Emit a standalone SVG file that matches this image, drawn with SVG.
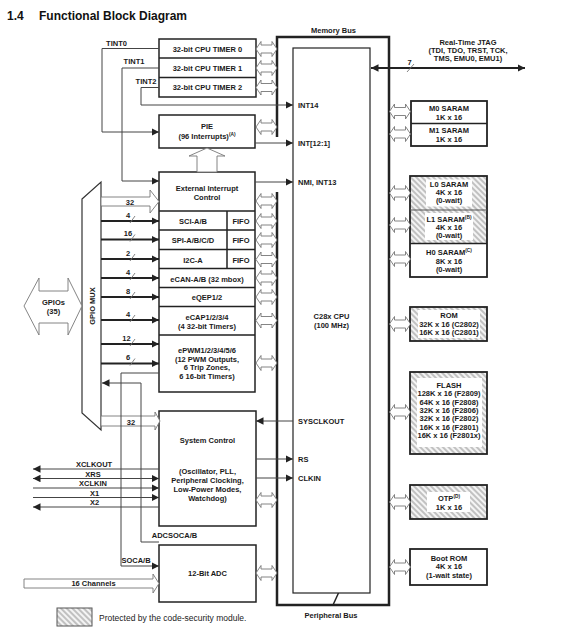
<svg xmlns="http://www.w3.org/2000/svg" width="561" height="630" viewBox="0 0 561 630">
<defs>
<style>
.t{font-family:"Liberation Sans",Arial,sans-serif;font-weight:bold;font-size:7.5px;fill:#1a1a1a;text-anchor:middle}
.tl{font-family:"Liberation Sans",Arial,sans-serif;font-weight:bold;font-size:7.5px;fill:#1a1a1a}
.sup{font-size:4.8px}
.bx{fill:#fff;stroke:#222;stroke-width:1.5}
.mem{stroke:#222;stroke-width:1.8}
.ln{stroke:#444;stroke-width:1;fill:none}
.thk{stroke:#222;stroke-width:2;fill:none}
.ha{fill:#fff;stroke:#777;stroke-width:0.9}
.bus{stroke:#222;stroke-width:2.5;fill:none}
.sl{stroke:#777;stroke-width:0.9}
.wb{fill:#fff}
</style>
<marker id="ah" viewBox="0 0 8 8" refX="8" refY="4" markerWidth="7.5" markerHeight="7.5" markerUnits="userSpaceOnUse" orient="auto-start-reverse">
<path d="M0,0 L8,4 L0,8 Z" fill="#222"/>
</marker>
<pattern id="hatch" width="4" height="4" patternUnits="userSpaceOnUse" patternTransform="rotate(-45)">
<rect width="4" height="4" fill="#f4f4f4"/>
<line x1="1" y1="0" x2="1" y2="4" stroke="#b4b4b4" stroke-width="1.6"/>
</pattern>
<path id="dbl" d="M0,0 L5,-7.5 L5,-4 L16,-4 L16,-7.5 L21,0 L16,7.5 L16,4 L5,4 L5,7.5 Z" class="ha"/>
</defs>
<rect width="561" height="630" fill="#fff"/>

<g id="title">
<text x="7" y="19.5" style="font-family:'Liberation Sans',Arial,sans-serif;font-weight:bold;font-size:12px;fill:#111">1.4</text>
<text x="39" y="19.5" style="font-family:'Liberation Sans',Arial,sans-serif;font-weight:bold;font-size:12px;fill:#111">Functional Block Diagram</text>
</g>

<g id="buses">
<path class="bus" d="M277,137 L277,37 L389,37 L389,605 L277,605 L277,192"/>
<line x1="333" y1="605" x2="338.5" y2="593" stroke="#222" stroke-width="1.5"/>
<text class="t" x="333.5" y="33.4">Memory Bus</text>
<text class="t" x="331" y="618.4">Peripheral Bus</text>
</g>

<g id="cpu">
<rect x="293" y="48" width="77" height="545" fill="#fff" stroke="#222" stroke-width="1.2"/>
<text class="t" x="331.5" y="318.5">C28x CPU</text>
<text class="t" x="331.5" y="327.5">(100 MHz)</text>
</g>

<g id="timers">
<rect class="bx" x="159" y="39" width="97" height="58"/>
<line x1="159" y1="58" x2="256" y2="58" stroke="#222" stroke-width="1.5"/>
<line x1="159" y1="77.5" x2="256" y2="77.5" stroke="#222" stroke-width="1.5"/>
<text class="t" x="207.5" y="51.5">32-bit CPU TIMER 0</text>
<text class="t" x="207.5" y="70.5">32-bit CPU TIMER 1</text>
<text class="t" x="207.5" y="90">32-bit CPU TIMER 2</text>
</g>

<g id="pie">
<rect class="bx" x="159" y="115" width="96" height="33"/>
<text class="t" x="207" y="128.7">PIE</text>
<text class="t" x="207" y="139.4">(96 Interrupts)<tspan class="sup" dy="-3">(A)</tspan></text>
</g>

<g id="peripherals">
<rect class="bx" x="159" y="172" width="96" height="220"/>
<path d="M159,211 H255 M159,230 H255 M159,249.5 H255 M159,268.5 H255 M159,287.5 H255 M159,306.5 H255 M159,335 H255 M227,211 V268.5" stroke="#222" stroke-width="1.5" fill="none"/>
<text class="t" x="207" y="191">External Interrupt</text>
<text class="t" x="207" y="199.5">Control</text>
<text class="t" x="193" y="223.7">SCI-A/B</text>
<text class="t" x="193" y="242.7">SPI-A/B/C/D</text>
<text class="t" x="193" y="262.5">I2C-A</text>
<text class="t" x="241" y="223.7">FIFO</text>
<text class="t" x="241" y="242.7">FIFO</text>
<text class="t" x="241" y="262.5">FIFO</text>
<text class="t" x="207" y="281.5">eCAN-A/B (32 mbox)</text>
<text class="t" x="207" y="300.4">eQEP1/2</text>
<text class="t" x="207" y="320.4">eCAP1/2/3/4</text>
<text class="t" x="207" y="328.6">(4 32-bit Timers)</text>
<text class="t" x="207" y="353.4">ePWM1/2/3/4/5/6</text>
<text class="t" x="207" y="361.8">(12 PWM Outputs,</text>
<text class="t" x="207" y="370.2">6 Trip Zones,</text>
<text class="t" x="207" y="378.6">6 16-bit Timers)</text>
</g>

<g id="ext-int-arrow">
<path class="ha" d="M197,172 L197,156 L189,156 L207,148 L225,156 L217,156 L217,172 Z"/>
</g>

<g id="sysctrl">
<rect class="bx" x="159" y="411" width="97" height="115"/>
<text class="t" x="207.5" y="442.7">System Control</text>
<text class="t" x="207.5" y="474.4">(Oscillator, PLL,</text>
<text class="t" x="207.5" y="483.2">Peripheral Clocking,</text>
<text class="t" x="207.5" y="492">Low-Power Modes,</text>
<text class="t" x="207.5" y="500.6">Watchdog)</text>
</g>

<g id="adc">
<rect class="bx" x="159" y="545" width="97" height="57"/>
<text class="t" x="207.5" y="576">12-Bit ADC</text>
</g>

<g id="gpio-mux">
<polygon points="82,199 101,182 101,430 82,413" fill="#fff" stroke="#333" stroke-width="1.2"/>
<text class="t" transform="translate(94.7,306) rotate(-90)">GPIO MUX</text>
</g>

<g id="gpios">
<path class="ha" d="M24,306 L39,278 L39,291 L68,291 L68,278 L82,306 L68,335 L68,323 L39,323 L39,335 Z"/>
<text class="t" x="53.5" y="304.5">GPIOs</text>
<text class="t" x="53.5" y="314">(35)</text>
</g>

<g id="memories">
<g id="m0m1">
<rect class="mem" x="411" y="101" width="76" height="45" fill="#fff"/>
<line x1="411" y1="123.5" x2="487" y2="123.5" stroke="#222" stroke-width="1.5"/>
<text class="t" x="449" y="111.4">M0 SARAM</text>
<text class="t" x="449" y="120">1K x 16</text>
<text class="t" x="449" y="133.4">M1 SARAM</text>
<text class="t" x="449" y="142">1K x 16</text>
</g>
<g id="l0l1h0">
<rect x="410" y="176" width="77" height="67" fill="url(#hatch)"/>
<rect class="wb" x="426" y="179.5" width="46" height="27"/>
<rect class="wb" x="425" y="213" width="48" height="27"/>
<rect class="mem" x="410" y="176" width="77" height="101" fill="none"/>
<line x1="410" y1="210" x2="487" y2="210" stroke="#555" stroke-width="1.2"/>
<line x1="410" y1="243.5" x2="487" y2="243.5" stroke="#222" stroke-width="1.5"/>
<text class="t" x="449" y="186.7">L0 SARAM</text>
<text class="t" x="449" y="195">4K x 16</text>
<text class="t" x="449" y="203.4">(0-wait)</text>
<text class="t" x="449" y="221.7">L1 SARAM<tspan class="sup" dy="-3">(B)</tspan></text>
<text class="t" x="449" y="230">4K x 16</text>
<text class="t" x="449" y="238.4">(0-wait)</text>
<text class="t" x="449" y="255">H0 SARAM<tspan class="sup" dy="-3">(C)</tspan></text>
<text class="t" x="449" y="263.7">8K x 16</text>
<text class="t" x="449" y="272">(0-wait)</text>
</g>
<g id="rom">
<rect class="mem" x="410" y="307" width="77" height="34" fill="url(#hatch)"/>
<rect class="wb" x="418" y="310" width="62" height="28"/>
<text class="t" x="449" y="317.7">ROM</text>
<text class="t" x="449" y="326.7">32K x 16 (C2802)</text>
<text class="t" x="449" y="334.6">16K x 16 (C2801)</text>
</g>
<g id="flash">
<rect class="mem" x="410" y="372" width="77" height="82" fill="url(#hatch)"/>
<rect class="wb" x="417" y="378" width="65" height="69"/>
<text class="t" x="449" y="388">FLASH</text>
<text class="t" x="449" y="396.4">128K x 16 (F2809)</text>
<text class="t" x="449" y="404.7">64K x 16 (F2808)</text>
<text class="t" x="449" y="413">32K x 16 (F2806)</text>
<text class="t" x="449" y="421.4">32K x 16 (F2802)</text>
<text class="t" x="449" y="429.7">16K x 16 (F2801)</text>
<text class="t" x="449" y="438">16K x 16 (F2801x)</text>
</g>
<g id="otp">
<rect class="mem" x="410" y="485" width="77" height="34" fill="url(#hatch)"/>
<rect class="wb" x="427" y="492" width="43" height="20"/>
<text class="t" x="449" y="501">OTP<tspan class="sup" dy="-3">(D)</tspan></text>
<text class="t" x="449" y="510.4">1K x 16</text>
</g>
<g id="bootrom">
<rect class="mem" x="410" y="549" width="77" height="36" fill="#fff"/>
<text class="t" x="449" y="561">Boot ROM</text>
<text class="t" x="449" y="569.4">4K x 16</text>
<text class="t" x="449" y="578">(1-wait state)</text>
</g>
</g>

<g id="jtag">
<text class="t" x="468" y="45">Real-Time JTAG</text>
<text class="t" x="468" y="53">(TDI, TDO, TRST, TCK,</text>
<text class="t" x="468" y="61">TMS, EMU0, EMU1)</text>
</g>

<g id="legend">
<rect x="57" y="608" width="35" height="18" fill="url(#hatch)" stroke="#555" stroke-width="1"/>
<text x="99" y="620.5" style="font-family:'Liberation Sans',Arial,sans-serif;font-size:8.5px;fill:#222">Protected by the code-security module.</text>
</g>

<g id="connectors">
<!-- bus double arrows left -->
<use href="#dbl" x="256" y="49"/>
<use href="#dbl" x="256" y="68"/>
<use href="#dbl" x="256" y="87.5"/>
<use href="#dbl" x="256" y="127"/>
<use href="#dbl" x="256" y="201"/>
<use href="#dbl" x="256" y="221"/>
<use href="#dbl" x="256" y="240"/>
<use href="#dbl" x="256" y="259.5"/>
<use href="#dbl" x="256" y="278"/>
<use href="#dbl" x="256" y="297"/>
<use href="#dbl" x="256" y="320.5"/>
<use href="#dbl" x="256" y="363"/>
<use href="#dbl" x="256" y="500"/>
<use href="#dbl" x="256" y="573"/>
<!-- bus double arrows right -->
<use href="#dbl" x="389.5" y="111.5"/>
<use href="#dbl" x="389.5" y="134"/>
<use href="#dbl" x="389.5" y="193"/>
<use href="#dbl" x="389.5" y="225"/>
<use href="#dbl" x="389.5" y="259"/>
<use href="#dbl" x="389.5" y="324"/>
<use href="#dbl" x="389.5" y="412"/>
<use href="#dbl" x="389.5" y="502"/>
<use href="#dbl" x="389.5" y="567"/>

<!-- timer interrupts -->
<polyline class="ln" points="159,48.5 102,48.5 102,132 159,132" marker-end="url(#ah)"/>
<polyline class="ln" points="159,68 122,68 122,181 159,181" marker-end="url(#ah)"/>
<polyline class="ln" points="159,87.5 141,87.5 141,105 293,105" marker-end="url(#ah)"/>
<text class="t" x="116.5" y="46">TINT0</text>
<text class="t" x="134" y="64">TINT1</text>
<text class="t" x="146" y="84">TINT2</text>

<line class="ln" x1="255" y1="143" x2="293" y2="143" marker-end="url(#ah)"/>
<line class="ln" x1="255" y1="182" x2="293" y2="182" marker-end="url(#ah)"/>
<text class="tl" x="298" y="108">INT14</text>
<text class="tl" x="298" y="145.5">INT[12:1]</text>
<text class="tl" x="298" y="185">NMI, INT13</text>

<!-- JTAG -->
<line class="thk" x1="371" y1="68" x2="525" y2="68" marker-start="url(#ah)" marker-end="url(#ah)"/>
<line class="sl" x1="407" y1="72" x2="414" y2="64"/>
<text class="t" x="409.5" y="65.4">7</text>

<!-- GPIO mux to peripherals -->
<path class="ha" d="M101,197 L150,197 L150,190 L159,201.5 L150,213 L150,206 L101,206 Z"/>
<text class="t" x="130" y="204.8">32</text>
<g id="buslines">
<line class="thk" x1="101" y1="221" x2="159" y2="221" marker-end="url(#ah)"/>
<line class="thk" x1="101" y1="239.5" x2="159" y2="239.5" marker-end="url(#ah)"/>
<line class="thk" x1="101" y1="259" x2="159" y2="259" marker-end="url(#ah)"/>
<line class="thk" x1="101" y1="278" x2="159" y2="278" marker-end="url(#ah)"/>
<line class="thk" x1="101" y1="297" x2="159" y2="297" marker-end="url(#ah)"/>
<line class="thk" x1="101" y1="320" x2="159" y2="320" marker-end="url(#ah)"/>
<line class="thk" x1="101" y1="344" x2="159" y2="344" marker-end="url(#ah)"/>
<line class="thk" x1="101" y1="363.5" x2="159" y2="363.5" marker-end="url(#ah)"/>
</g>
<g id="slashes">
<path class="sl" d="M130,223 L135,216 M130,241.5 L135,234.5 M130,261 L135,254 M130,280 L135,273 M130,299 L135,292 M130,322 L135,315 M130,346 L135,339 M130,365.5 L135,358.5"/>
</g>
<text class="t" x="128" y="217.5">4</text>
<text class="t" x="128" y="236">16</text>
<text class="t" x="128" y="255.5">2</text>
<text class="t" x="128" y="274.5">4</text>
<text class="t" x="128" y="293.5">8</text>
<text class="t" x="128" y="316.5">4</text>
<text class="t" x="126.5" y="340.5">12</text>
<text class="t" x="128" y="360">6</text>

<!-- system control 32 -->
<path class="ha" d="M101,416 L155,416 L155,412 L160,421 L155,430 L155,426 L101,426 Z"/>
<text class="t" x="131" y="424.5">32</text>

<!-- SOCA / ADCSOCA -->
<polyline class="ln" points="159,373 121,373 121,566 159,566" marker-end="url(#ah)"/>
<polyline class="ln" points="159,542 141,542 141,383 102,383" marker-end="url(#ah)"/>
<text class="t" x="136" y="562.7">SOCA/B</text>
<text class="t" x="174.5" y="538.4">ADCSOCA/B</text>

<!-- clocks / reset -->
<line class="ln" x1="293" y1="421" x2="256" y2="421" marker-end="url(#ah)"/>
<line class="ln" x1="256" y1="459" x2="293" y2="459" marker-end="url(#ah)"/>
<line class="ln" x1="256" y1="478" x2="293" y2="478" marker-end="url(#ah)"/>
<text class="tl" x="298" y="424">SYSCLKOUT</text>
<text class="tl" x="298" y="462">RS</text>
<text class="tl" x="298" y="481">CLKIN</text>

<line class="ln" x1="159" y1="469" x2="33" y2="469" marker-end="url(#ah)"/>
<line class="ln" x1="33" y1="478.5" x2="159" y2="478.5" marker-start="url(#ah)" marker-end="url(#ah)"/>
<line class="ln" x1="33" y1="488" x2="159" y2="488" marker-end="url(#ah)"/>
<line class="ln" x1="33" y1="497.5" x2="159" y2="497.5" marker-end="url(#ah)"/>
<line class="ln" x1="159" y1="507" x2="33" y2="507" marker-end="url(#ah)"/>
<text class="t" x="94" y="467">XCLKOUT</text>
<text class="t" x="93" y="476.5">XRS</text>
<text class="t" x="93" y="486">XCLKIN</text>
<text class="t" x="94.5" y="495.5">X1</text>
<text class="t" x="94.5" y="505">X2</text>

<!-- analog channels -->
<path class="ha" d="M24,579 L153,579 L153,574 L159,583.5 L153,593 L153,588 L24,588 Z"/>
<text class="t" x="93.5" y="586">16 Channels</text>
</g>
</svg>
